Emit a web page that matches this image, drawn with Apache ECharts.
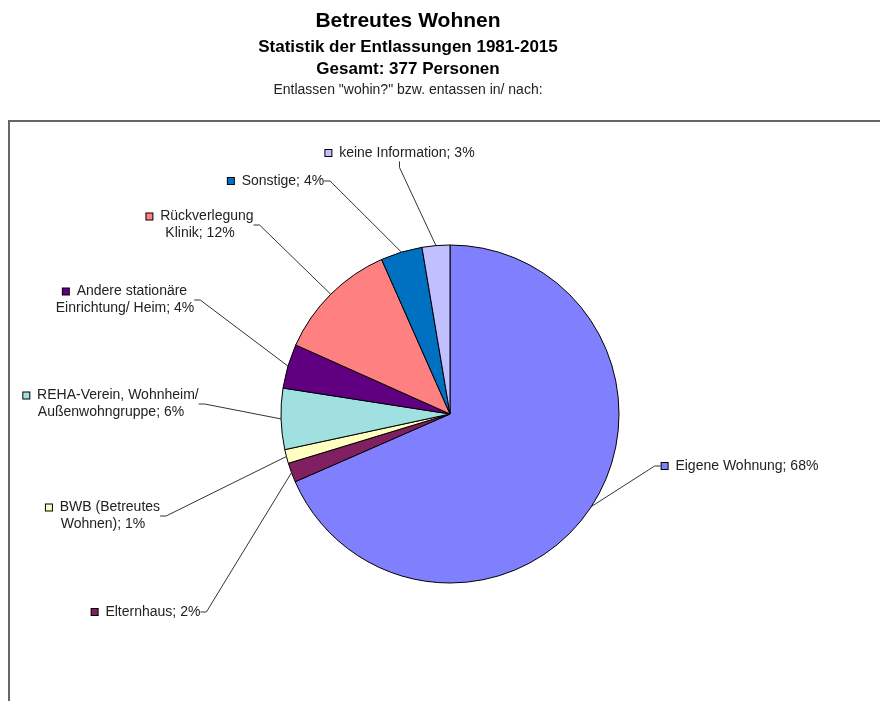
<!DOCTYPE html>
<html>
<head>
<meta charset="utf-8">
<title>Betreutes Wohnen</title>
<script src="https://cdn.jsdelivr.net/npm/echarts@6/dist/echarts.min.js"></script>
<style>
  html, body { margin: 0; padding: 0; background: #fff; }
  #main { width: 880px; height: 701px; }
</style>
</head>
<body>
<div id="main"></div>
<script>
// Kategorien (Excel-Reihenfolge, im Uhrzeigersinn ab 12 Uhr)
var categories = [
  'Eigene Wohnung',
  'Elternhaus',
  'BWB (Betreutes\nWohnen)',
  'REHA-Verein, Wohnheim/\nAußenwohngruppe',
  'Andere stationäre\nEinrichtung/ Heim',
  'Rückverlegung\nKlinik',
  'Sonstige',
  'keine Information'
];
// Personen je Kategorie (gesamt 377)
var persons = [258, 7, 5, 22, 16, 44, 15, 10];
var colors = ['#8080ff', '#802060', '#ffffc0', '#a0e0e0', '#600080', '#ff8080', '#0070c0', '#c0c0ff'];

// where each label sits (centre of text block)
var labelPos = [
  [740, 466], [146, 612], [103, 516], [111, 404],
  [125, 300], [200, 225], [276, 181], [400, 153]
];

var total = persons.reduce(function (a, b) { return a + b; }, 0);

var pieData = categories.map(function (name, i) {
  return { name: name, value: persons[i], itemStyle: { color: colors[i] } };
});

var chart = echarts.init(document.getElementById('main'));

chart.setOption({
  backgroundColor: '#fff',
  animation: false,
  title: [
    { text: 'Betreutes Wohnen', left: 403, top: 6, textAlign: 'center',
      textStyle: { fontFamily: 'Liberation Sans', fontSize: 21, fontWeight: 'bold', color: '#000' } },
    { text: 'Statistik der Entlassungen 1981-2015', left: 403, top: 34, textAlign: 'center',
      textStyle: { fontFamily: 'Liberation Sans', fontSize: 17, fontWeight: 'bold', color: '#000' } },
    { text: 'Gesamt: 377 Personen', left: 403, top: 56, textAlign: 'center',
      textStyle: { fontFamily: 'Liberation Sans', fontSize: 17, fontWeight: 'bold', color: '#000' } },
    { text: 'Entlassen "wohin?" bzw. entassen in/ nach:', left: 403, top: 78, textAlign: 'center',
      textStyle: { fontFamily: 'Liberation Sans', fontSize: 14, fontWeight: 'normal', color: '#222' } }
  ],
  graphic: [
    { type: 'rect', silent: true, z: -1,
      shape: { x: 9, y: 121, width: 900, height: 700 },
      style: { fill: 'none', stroke: '#666', lineWidth: 2 } }
  ],
  series: [
    {
      type: 'pie',
      center: [450, 414],
      radius: 169,
      startAngle: 90,
      clockwise: true,
      data: pieData,
      itemStyle: { borderColor: '#000', borderWidth: 1 },
      label: {
        show: true,
        color: '#222',
        fontFamily: 'Liberation Sans',
        fontSize: 14,
        lineHeight: 17,
        align: 'center',
        formatter: function (p) {
          var pct = Math.round(p.value / total * 100);
          var lines = (p.name + '; ' + pct + '%').split('\n');
          lines[0] = '{sq' + p.dataIndex + '|}  ' + lines[0];
          return lines.join('\n');
        },
        rich: (function () {
          var r = {};
          colors.forEach(function (c, i) {
            r['sq' + i] = { width: 6, height: 6, backgroundColor: c, borderColor: '#000', borderWidth: 1 };
          });
          return r;
        })()
      },
      labelLine: {
        show: true,
        length: 10,
        length2: 6,
        lineStyle: { color: '#333', width: 1 }
      },
      labelLayout: function (params) {
        var pos = labelPos[params.dataIndex];
        return { x: pos[0], y: pos[1], align: 'center', verticalAlign: 'middle' };
      }
    }
  ]
});
</script>
</body>
</html>
